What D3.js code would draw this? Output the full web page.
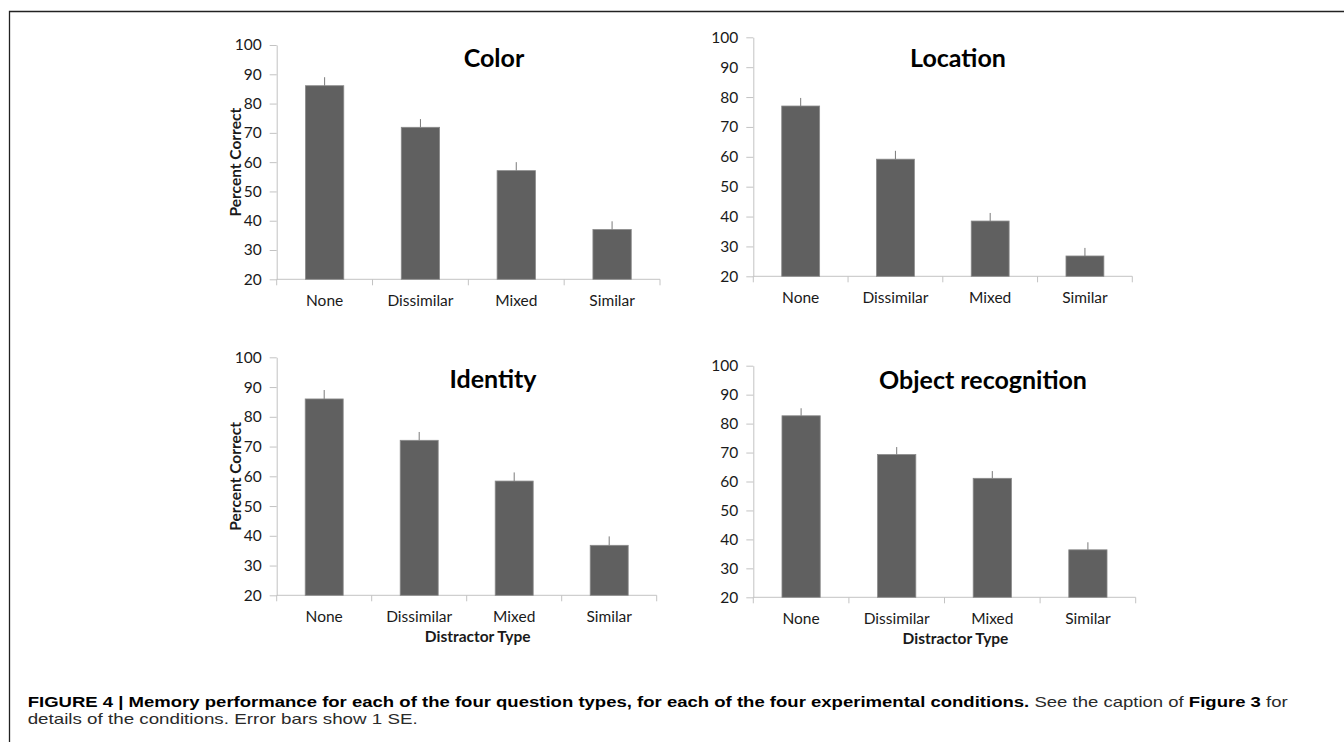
<!DOCTYPE html>
<html lang="en">
<head>
  <meta charset="UTF-8">
  <title>Figure 4 - Memory performance</title>
  <script src="https://d3js.org/d3.v7.min.js"></script>
  <style>
    body { margin: 0; background: #fff; }
    svg { display: block; }
    .tick text { font-family: Lato, 'Open Sans', sans-serif; font-size: 15.5px; fill: #1a1a1a; }
    .axis path, .axis line { stroke: #c3c3c3; }
    .title { font-family: Lato, 'Open Sans', sans-serif; font-weight: bold; font-size: 25px; fill: #000; }
    .axlabel { font-family: Lato, 'Open Sans', sans-serif; font-weight: bold; font-size: 15.5px; fill: #1a1a1a; }
    .caption { font-family: 'Liberation Sans', Arial, sans-serif; font-size: 14.5px; fill: #2a2a2a; }
  </style>
</head>
<body>
<svg id="chart" width="1344" height="742"></svg>
<script>
  // data
  const categories = ["None", "Dissimilar", "Mixed", "Similar"];
  const yTicks = [20, 30, 40, 50, 60, 70, 80, 90, 100];

  const colorVals = [86.1, 71.9, 57.1, 37.0];
  const colorSE = [2.9, 2.8, 2.9, 2.8];
  const locationVals = [77.0, 59.2, 38.5, 26.8];
  const locationSE = [2.7, 2.8, 2.7, 2.7];
  const identityVals = [86.0, 72.1, 58.4, 36.8];
  const identitySE = [3.0, 2.8, 2.9, 3.0];
  const objectVals = [82.7, 69.3, 61.1, 36.4];
  const objectSE = [2.6, 2.6, 2.5, 2.6];

  const svg = d3.select("#chart");

  // figure frame (left + top rule)
  svg.append("path")
    .attr("d", "M9.5,742 V11.5 H1344")
    .attr("fill", "none")
    .attr("stroke", "#222")
    .attr("stroke-width", 1.3);

  const panels = [
    { title: "Color", vals: colorVals, se: colorSE, x0: 276.7, x1: 660, yTop: 45, yBot: 279.3,
      titleX: 494, titleY: 67, ylabel: true, xlabel: false },
    { title: "Location", vals: locationVals, se: locationSE, x0: 753.3, x1: 1132.3, yTop: 37.3, yBot: 276.3,
      titleX: 958, titleY: 67, ylabel: false, xlabel: false },
    { title: "Identity", vals: identityVals, se: identitySE, x0: 276.7, x1: 656.7, yTop: 357.3, yBot: 595.3,
      titleX: 493, titleY: 388, ylabel: true, xlabel: true },
    { title: "Object recognition", vals: objectVals, se: objectSE, x0: 753.3, x1: 1135.7, yTop: 365.7, yBot: 597.3,
      titleX: 983, titleY: 389, ylabel: false, xlabel: true }
  ];

  panels.forEach(p => {
    const g = svg.append("g");

    const x = d3.scaleBand().domain(categories).range([p.x0, p.x1]).paddingInner(0).paddingOuter(0);
    const y = d3.scaleLinear().domain([20, 100]).range([p.yBot, p.yTop]);
    const bw = x.bandwidth() * 0.4;

    // y axis
    g.append("g")
      .attr("class", "axis")
      .attr("transform", `translate(${p.x0},0)`)
      .call(d3.axisLeft(y).tickValues(yTicks).tickSize(7).tickSizeOuter(0).tickPadding(8))
      .call(a => a.selectAll(".tick line").attr("stroke", "#c3c3c3"));

    // x axis: line + boundary ticks
    const xa = g.append("g").attr("class", "axis");
    xa.append("line")
      .attr("x1", p.x0).attr("x2", p.x1)
      .attr("y1", y(20)).attr("y2", y(20));
    const bounds = categories.map(c => x(c)).concat([p.x1]);
    xa.selectAll("line.b").data(bounds).join("line")
      .attr("class", "b")
      .attr("x1", d => d).attr("x2", d => d)
      .attr("y1", y(20)).attr("y2", y(20) + 6);

    // category labels
    g.append("g")
      .attr("transform", `translate(0,${y(20)})`)
      .call(d3.axisBottom(x).tickSize(0).tickPadding(16))
      .call(a => a.select(".domain").remove());

    // bars
    g.selectAll("rect.bar").data(p.vals).join("rect")
      .attr("class", "bar")
      .attr("x", (d, i) => x(categories[i]) + (x.bandwidth() - bw) / 2)
      .attr("width", bw)
      .attr("y", d => y(d))
      .attr("height", d => y(20) - y(d))
      .attr("fill", "#606060")
      .attr("stroke", "#8a8a8a")
      .attr("stroke-width", 0.8);

    // error bars (upper only)
    g.selectAll("line.err").data(p.vals).join("line")
      .attr("class", "err")
      .attr("x1", (d, i) => x(categories[i]) + x.bandwidth() / 2)
      .attr("x2", (d, i) => x(categories[i]) + x.bandwidth() / 2)
      .attr("y1", d => y(d))
      .attr("y2", (d, i) => y(d + p.se[i]))
      .attr("stroke", "#7a7a7a")
      .attr("stroke-width", 1);

    g.append("text")
      .attr("class", "title")
      .attr("x", p.titleX).attr("y", p.titleY)
      .attr("text-anchor", "middle")
      .text(p.title);

    if (p.ylabel) {
      g.append("text")
        .attr("class", "axlabel")
        .attr("transform", `translate(241,${(p.yTop + p.yBot) / 2}) rotate(-90)`)
        .attr("text-anchor", "middle")
        .text("Percent Correct");
    }
    if (p.xlabel) {
      g.append("text")
        .attr("class", "axlabel")
        .attr("x", (p.x0 + p.x1) / 2 + 11)
        .attr("y", y(20) + 47)
        .attr("text-anchor", "middle")
        .text("Distractor Type");
    }
  });

  // caption
  const cap = svg.append("text").attr("class", "caption").attr("x", 27.7).attr("y", 706.5)
    .attr("textLength", 1260).attr("lengthAdjust", "spacingAndGlyphs");
  cap.append("tspan").attr("font-weight", "bold").attr("fill", "#000")
    .text("FIGURE 4 | Memory performance for each of the four question types, for each of the four experimental conditions.");
  cap.append("tspan").text(" See the caption of ");
  cap.append("tspan").attr("font-weight", "bold").attr("fill", "#000").text("Figure 3");
  cap.append("tspan").text(" for");
  svg.append("text").attr("class", "caption").attr("x", 27.7).attr("y", 723.5)
    .attr("textLength", 390).attr("lengthAdjust", "spacingAndGlyphs")
    .text("details of the conditions. Error bars show 1 SE.");
</script>
</body>
</html>
